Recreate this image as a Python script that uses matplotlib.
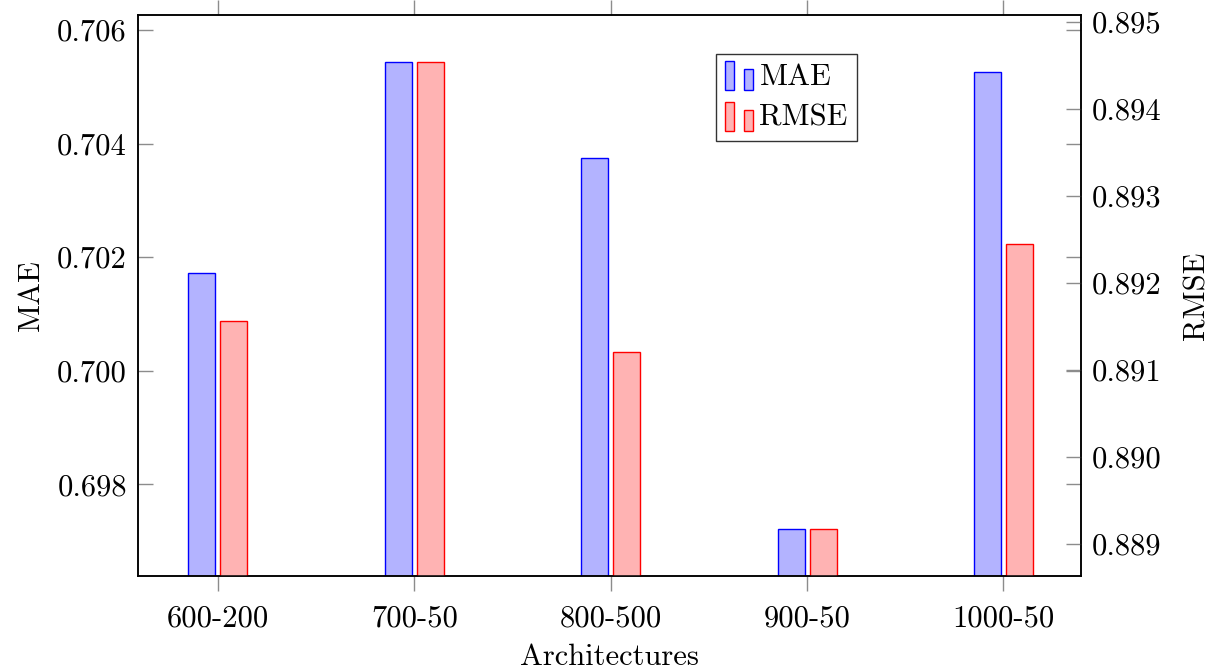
import matplotlib
matplotlib.use("Agg")
import matplotlib.pyplot as plt
from matplotlib.legend_handler import HandlerBase
from matplotlib.patches import Rectangle
import numpy as np

# Results per network architecture
architectures = ["600-200", "700-50", "800-500", "900-50", "1000-50"]
mae = [0.70172, 0.70544, 0.70375, 0.69721, 0.70526]
rmse = [0.89156, 0.89454, 0.89121, 0.88917, 0.89245]
mae_ticks = [0.698, 0.700, 0.702, 0.704, 0.706]
rmse_ticks = [0.889, 0.890, 0.891, 0.892, 0.893, 0.894, 0.895]

plt.rcParams["font.family"] = "serif"
plt.rcParams["font.serif"] = ["cmr10"]
plt.rcParams["mathtext.fontset"] = "cm"
plt.rcParams["axes.unicode_minus"] = False

BLUE_EDGE, BLUE_FILL = "#0000ff", "#b3b3ff"
RED_EDGE, RED_FILL = "#ff0000", "#ffb3b3"
TICK_GRAY = "#8c8c8c"
FS = 22


def padded_limits(values, frac=0.1):
    lo, hi = min(values), max(values)
    span = hi - lo
    return lo - frac * span, hi + frac * span


class BarIconHandler(HandlerBase):
    """Legend icon made of two small bars, like a pgfplots ybar legend."""

    def create_artists(self, legend, orig_handle, xdescent, ydescent,
                       width, height, fontsize, trans):
        fc = orig_handle.get_facecolor()
        ec = orig_handle.get_edgecolor()
        w = width * 0.3
        r1 = Rectangle((-xdescent, -ydescent - height * 0.25), w, height * 1.35,
                       facecolor=fc, edgecolor=ec, lw=1.0, transform=trans)
        r2 = Rectangle((-xdescent + width * 0.62, -ydescent - height * 0.25), w,
                       height * 1.0, facecolor=fc, edgecolor=ec, lw=1.0,
                       transform=trans)
        return [r1, r2]


fig = plt.figure(figsize=(12.22, 6.70), dpi=100)
ax = fig.add_axes([138 / 1222, 1 - 576 / 670, (1081 - 138) / 1222, (576 - 15) / 670])
ax2 = ax.twinx()

x = np.arange(len(architectures))
width = 0.1375
shift = 0.0815

b1 = ax.bar(x - shift, mae, width, bottom=0, color=BLUE_FILL, edgecolor=BLUE_EDGE,
            linewidth=1.0, label="MAE", zorder=2)
b2 = ax2.bar(x + shift, rmse, width, bottom=0, color=RED_FILL, edgecolor=RED_EDGE,
             linewidth=1.0, label="RMSE", zorder=2)

ax.set_xlim(-0.407, 4.395)
ax.set_ylim(*padded_limits(mae))
ax2.set_ylim(*padded_limits(rmse))

ax.set_xticks(x)
ax.set_xticklabels(architectures, fontsize=FS)
ax.set_yticks(mae_ticks)
ax.set_yticklabels([f"{t:.3f}" for t in mae_ticks], fontsize=FS)
ax2.set_yticks(rmse_ticks)
ax2.set_yticklabels([f"{t:.3f}" for t in rmse_ticks], fontsize=FS)

ax.tick_params(axis="y", direction="in", left=True, right=True, length=11,
               width=1.0, color=TICK_GRAY, pad=8)
ax.tick_params(axis="x", direction="out", bottom=True, top=True, length=11,
               width=1.0, color=TICK_GRAY, pad=10)
ax2.tick_params(axis="y", direction="in", left=False, right=True, length=11,
                width=1.0, color=TICK_GRAY, pad=8)

for a in (ax, ax2):
    for s in a.spines.values():
        s.set_linewidth(1.1)
        s.set_color("black")

ax.set_xlabel("Architectures", fontsize=FS, labelpad=8)
ax.set_ylabel("MAE", fontsize=FS, labelpad=8.5)
ax2.set_ylabel("RMSE", fontsize=FS, labelpad=15.5)

leg = fig.legend([b1.patches[0], b2.patches[0]], ["MAE", "RMSE"],
                 handler_map={Rectangle: BarIconHandler()},
                 loc="upper left", bbox_to_anchor=(716 / 1222, 1 - 54 / 670),
                 bbox_transform=fig.transFigure, fontsize=FS, frameon=True,
                 fancybox=False, borderaxespad=0, handlelength=1.0,
                 handletextpad=0.12, borderpad=0.3, labelspacing=0.45)
leg.get_frame().set_edgecolor("black")
leg.get_frame().set_linewidth(1.0)

fig.savefig("out.png", dpi=100)
